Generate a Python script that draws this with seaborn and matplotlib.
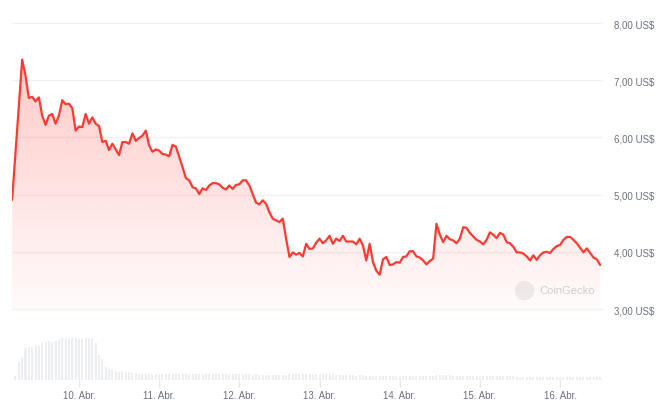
import numpy as np
import pandas as pd
import matplotlib
matplotlib.use("Agg")
import matplotlib.pyplot as plt
import seaborn as sns
from matplotlib.patches import Polygon

# hourly samples, first one on 9. Abr. around 04:00
start_day = 9 + 4 / 24
hours = np.arange(177)

price = [
    4.91, np.nan, np.nan,
    7.36, 7.08, 6.69, 6.71, 6.63, 6.70, 6.38, 6.22, 6.38, 6.41, 6.24, 6.38, 6.65,
    6.58, 6.59, 6.51, 6.12, 6.19, 6.18, 6.41, 6.24, 6.35, 6.24, 6.20, 5.92, 5.94,
    5.78, 5.89, 5.79, 5.69, 5.92, 5.92, 5.89, 6.07, 5.94, 5.99, 6.03, 6.12, 5.86,
    5.75, 5.79, 5.77, 5.71, 5.70, 5.67, 5.87, 5.84, 5.66, 5.48, 5.29, 5.25, 5.13,
    5.11, 5.01, 5.11, 5.08, 5.16,
    5.20, 5.20, 5.18, 5.12, 5.09, 5.16, 5.10, 5.17, 5.18, 5.25, 5.25, 5.16, 5.01,
    4.86, 4.83, 4.90, 4.84, 4.69, 4.58, 4.55, 4.52, 4.58, 4.23, 3.91, 3.99, 3.95,
    3.98, 3.92, 4.14, 4.05,
    4.06, 4.16, 4.23, 4.15, 4.20, 4.28, 4.14, 4.23, 4.19, 4.28, 4.18, 4.18, 4.18,
    4.13, 4.23, 4.11, 3.85, 4.14, 3.82, 3.67, 3.60, 3.87, 3.91, 3.77, 3.78, 3.82,
    3.81, 3.91, 3.92, 4.01,
    4.01, 3.92, 3.90, 3.85, 3.78, 3.84, 3.88, 4.49, 4.30, 4.17, 4.28, 4.22, 4.20,
    4.15, 4.23, 4.43, 4.42, 4.33, 4.27, 4.21, 4.18, 4.13, 4.21, 4.34, 4.30, 4.24,
    4.33, 4.30, 4.17, 4.15,
    4.09, 3.99, 3.99, 3.97, 3.92, 3.85, 3.94, 3.86, 3.94, 3.99, 4.00, 3.98, 4.05,
    4.10, 4.12, 4.21, 4.26, 4.26, 4.21, 4.15, 4.07, 3.99, 4.06, 3.98, 3.90, 3.87,
    3.77,
]

volume = [
    0.0,
    4.3, 17.7, 22.7, 31.7, 32.7, 33.3, 35.0, 34.3, 37.0, 38.3, 39.0, 37.7, 38.7,
    40.0, 41.7, 42.3, 41.0, 41.7, 41.7, 41.0, 41.0, 41.7, 41.7, 42.3, 37.0, 25.0,
    21.0, 12.7, 11.0, 10.3, 9.3, 8.3, 8.7, 8.3, 7.7, 7.0,
    6.7, 6.3, 6.5, 6.3, 6.0, 6.3, 6.2, 6.5, 6.0, 6.2, 6.3, 6.0, 5.8, 6.2, 6.0,
    6.3, 5.9, 6.0, 6.2, 6.0, 5.7, 6.0, 5.9, 6.2, 6.0, 5.8, 5.7, 6.0, 5.5, 5.7,
    5.8, 5.6, 5.5, 5.7, 5.6, 5.4, 5.6, 5.5, 5.3, 5.0, 4.8, 5.0, 4.7, 4.8, 5.0, 5.3,
    5.7, 6.0, 6.0, 5.8, 6.0, 6.2, 6.0, 5.8, 6.0, 5.8, 6.0, 5.7, 5.8, 6.0,
    5.3, 5.0, 5.2, 4.8, 5.0, 4.7, 4.5, 4.7, 4.8, 4.5, 4.3, 4.5, 4.2, 4.3, 4.5,
    4.3, 4.0, 4.2, 4.3, 4.0, 4.2, 4.3, 4.0, 4.2, 4.3, 4.2, 4.0,
    4.0, 4.2, 4.0, 5.0, 5.3, 5.0, 4.8, 4.7, 4.3, 4.2, 4.0, 4.2, 4.3, 4.0, 4.2,
    4.0, 4.2, 4.3, 4.0, 4.2, 4.0, 4.3, 4.2, 4.0, 3.8, 4.0, 3.8,
    3.2, 3.0, 3.3, 3.0, 3.2, 3.0, 2.8, 3.0, 3.2, 3.0, 3.3, 3.2, 3.0, 3.3, 3.2,
    3.0, 3.2, 3.3, 3.0, 3.2, 3.0, 3.2, 3.3, 3.0, 3.2, 3.0,
]

day_ticks = [10, 11, 12, 13, 14, 15, 16]
day_labels = ["10. Abr.", "11. Abr.", "12. Abr.", "13. Abr.", "14. Abr.", "15. Abr.", "16. Abr."]
price_ticks = [3, 4, 5, 6, 7, 8]
price_labels = ["3,00 US$", "4,00 US$", "5,00 US$", "6,00 US$", "7,00 US$", "8,00 US$"]

df = pd.DataFrame({"day": start_day + hours / 24, "price": price, "volume": volume})
line_df = df.dropna()

sns.set_style("white")
plt.rcParams["font.family"] = ["Liberation Sans", "DejaVu Sans"]

red = "#ff3a33"
text_grey = "#6b7280"

fig = plt.figure(figsize=(6.69, 4.06), dpi=100)
rect = [12 / 669, 25 / 406, 591 / 669, 371 / 406]
axv = fig.add_axes(rect)
ax = fig.add_axes(rect)
ax.patch.set_alpha(0)

# volume bars
axv.bar(df["day"], df["volume"], width=0.6 / 24, color="#eceef2", linewidth=0)
axv.set_ylim(0, 371)
axv.set_xlim(9.165, 16.535)
axv.axis("off")

# price line with gradient fill
sns.lineplot(data=line_df, x="day", y="price", color=red, linewidth=1.6,
             estimator=None, ax=ax, zorder=3)

xs = line_df["day"].to_numpy()
ys = line_df["price"].to_numpy()
poly = Polygon(np.column_stack([np.r_[xs, xs[-1], xs[0]], np.r_[ys, 3.0, 3.0]]),
               closed=True, facecolor="none", edgecolor="none")
ax.add_patch(poly)
grad = np.zeros((256, 1, 4))
grad[:, :, :3] = matplotlib.colors.to_rgb(red)
grad[:, 0, 3] = np.linspace(0.02, 0.28, 256)
im = ax.imshow(grad, extent=[xs[0], xs[-1], 3.0, 7.5], origin="lower",
               aspect="auto", zorder=2)
im.set_clip_path(poly)

ax.set_xlim(9.165, 16.535)
ax.set_ylim(1.759, 8.245)
ax.set_xticks(day_ticks)
ax.set_xticklabels(day_labels)
ax.set_yticks(price_ticks)
ax.set_yticklabels(price_labels)
ax.yaxis.tick_right()
ax.grid(axis="y", color="#f1f1f1", linewidth=1)
ax.grid(axis="x", visible=False)
ax.set_xlabel("")
ax.set_ylabel("")
for s in ax.spines.values():
    s.set_visible(False)
ax.tick_params(axis="y", length=0, pad=8, labelsize=7, labelcolor=text_grey)
ax.tick_params(axis="x", bottom=True, length=5, width=1, color="#e6e8ec",
               pad=2, labelsize=7, labelcolor=text_grey)

# watermark
ax.plot([0.866], [0.243], marker="o", markersize=13, color="#efefef",
        transform=ax.transAxes, zorder=1)
ax.text(0.893, 0.243, "CoinGecko", transform=ax.transAxes, fontsize=8,
        color="#d2d2d2", ha="left", va="center", zorder=1)

fig.savefig("out.png", dpi=100)
